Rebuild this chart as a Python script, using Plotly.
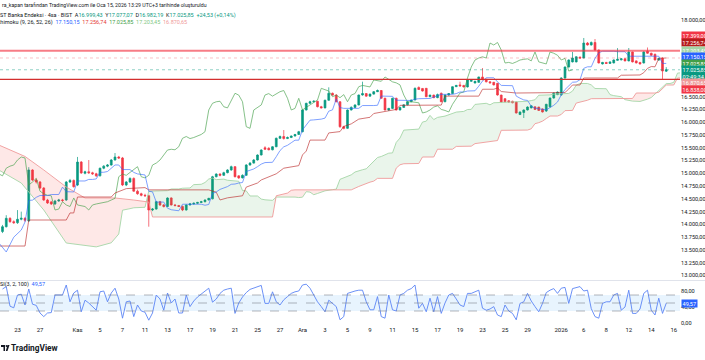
import numpy as np
import pandas as pd
import plotly.graph_objects as go

# ---------------- data ----------------
opens = [13860,13955,14119,14054,14033,14100,14120,14067,15065,14869,
         14830,14712,14477,14440,14400,14458,14477,14477,14830,14860,
         14770,15220,15000,15030,15010,14990,14950,15100,15140,15162,
         15260,15319,15300,14771,14830,14900,14650,14600,14570,14560,
         14282,14300,14444,14380,14350,14517,14380,14370,14350,14282,
         14380,14400,14413,14430,14444,14477,14500,14933,14986,14960,
         15012,15065,15130,14950,14910,14960,15162,15200,15260,15358,
         15500,15490,15460,15520,15685,15720,15680,15700,15730,15760,
         15814,16239,16370,16400,16410,16303,16280,16430,16566,16530,
         16400,15912,15880,16239,16290,16337,16532,16560,16510,16550,
         16597,16620,16468,16239,16270,16468,16239,16290,16340,16401,
         16434,16680,16660,16663,16499,16530,16480,16566,16401,16532,
         16560,16695,16730,16720,16690,16800,16767,16780,16885,16840,
         16790,16780,16760,16530,16460,16420,16410,16395,16150,16190,
         16239,16280,16300,16297,16260,16220,16300,16474,16540,16532,
         16865,17080,17180,17180,17270,17256,17550,17511,17560,17413,
         17140,17170,17150,17160,17210,17220,17240,17200,17374,17200,
         17170,17159,17390,17350,17330,17217,17250,16999.43]
highs = [13990,14180,14140,14080,14280,14250,14140,15120,15080,14900,
         14850,14730,14500,14460,14480,14500,14500,14850,14890,14880,
         15320,15240,15050,15260,15030,15010,15110,15160,15180,15280,
         15397,15340,15320,14850,14920,14920,14680,14620,14600,14580,
         14320,14460,14460,14400,14530,14530,14400,14380,14370,14390,
         14420,14430,14440,14460,14490,14520,14950,15000,15000,15030,
         15080,15150,15140,14960,14980,15180,15220,15280,15370,15470,
         15530,15510,15530,15700,15740,15847,15720,15740,15770,15830,
         16250,16380,16420,16430,16420,16320,16440,16683,16580,16550,
         16410,15930,16250,16310,16350,16540,16793,16570,16560,16610,
         16640,16630,16480,16280,16480,16480,16300,16350,16410,16440,
         16680,16700,16670,16670,16540,16540,16560,16580,16540,16570,
         16700,16730,16793,16730,16830,16840,16810,16890,17060,16850,
         16800,16790,16770,16540,16470,16430,16420,16400,16210,16250,
         16310,16330,16310,16300,16270,16360,16480,16580,16600,16880,
         17090,17230,17374,17290,17290,17648,17570,17580,17628,17420,
         17180,17180,17190,17230,17450,17250,17250,17452,17380,17210,
         17180,17390,17462,17360,17340,17260,17270,17077.07]
lows = [13830,13940,14030,14010,14010,14080,14050,14050,14850,14800,
        14690,14460,14400,14380,14380,14440,14440,14460,14810,14720,
        14750,14990,14980,14990,14970,14930,14940,15080,15120,15150,
        15250,15280,14750,14750,14810,14640,14580,14550,14540,13955,
        14260,14290,14360,14330,14340,14370,14350,14340,14260,14270,
        14370,14390,14400,14420,14430,14470,14490,14920,14940,14950,
        15000,15050,14920,14890,14900,14950,15150,15190,15250,15350,
        15460,15450,15450,15510,15670,15660,15670,15690,15720,15750,
        15800,16230,16360,16390,16290,16270,16270,16420,16520,16390,
        15890,15860,15870,16230,16280,16330,16520,16500,16500,16540,
        16590,16460,16230,16220,16260,16230,16230,16280,16330,16390,
        16430,16630,16600,16490,16490,16470,16470,16390,16390,16520,
        16550,16690,16700,16680,16680,16790,16760,16770,16820,16780,
        16760,16720,16520,16380,16390,16380,16370,16170,16140,16082,
        16230,16270,16240,16220,16190,16200,16290,16460,16530,16520,
        16850,17070,17170,17170,17240,17250,17500,17500,17400,17150,
        17130,17140,17140,17150,17200,17210,17190,17190,17170,17150,
        17130,17150,17340,17300,17210,17200,16838,16982.19]
closes = [13955,14119,14054,14033,14100,14120,14080,15065,14869,14830,
          14712,14477,14419,14400,14458,14477,14470,14830,14860,14738,
          15220,15006,15030,15010,14990,14950,15100,15140,15162,15260,
          15319,15300,14771,14830,14900,14650,14600,14570,14560,14282,
          14300,14444,14380,14350,14517,14380,14370,14350,14282,14380,
          14400,14413,14430,14444,14477,14510,14933,14986,14960,15012,
          15065,15130,14933,14910,14960,15162,15200,15260,15358,15456,
          15470,15460,15520,15685,15720,15680,15700,15730,15760,15814,
          16239,16370,16400,16410,16303,16280,16430,16566,16530,16400,
          15912,15880,16239,16290,16337,16532,16560,16510,16550,16597,
          16620,16468,16239,16270,16468,16239,16290,16340,16401,16434,
          16663,16640,16610,16499,16530,16480,16540,16401,16532,16560,
          16695,16720,16710,16690,16826,16820,16800,16885,16830,16790,
          16770,16730,16532,16395,16400,16395,16380,16180,16200,16239,
          16297,16320,16250,16230,16200,16350,16474,16571,16591,16865,
          17080,17217,17256,17280,17256,17550,17511,17560,17413,17159,
          17170,17150,17180,17217,17230,17240,17200,17374,17180,17160,
          17140,17374,17350,17310,17217,17250,17001.32,17025.85]

# Ichimoku lines, read as (bar index, value) vertices
tenkan_idx = [-1,1,3,5,6,7,8,9,10,12,13,15,16,17,19,20,22,23,24,25,26,27,28,29,30,31,32,34,35,36,37,38,39,40,41,43,44,45,46,47,48,53,54,55,56,57,58,59,60,61,62,63,64,65,66,67,68,69,70,72,73,74,75,76,77,78,79,80,81,82,83,84,85,86,87,88,89,90,91,95,96,99,100,101,102,103,104,105,108,109,110,111,114,115,116,117,120,121,122,123,124,126,127,128,129,131,132,133,136,137,138,139,140,141,142,143,144,145,146,147,148,149,150,151,152,153,154,155,156,157,158,159,160,163,164,166,167,175,176,177]
tenkan_val = [13640,13460,13750,13890,14047,14470,14475,14530,14565,14565,14585,14585,14730,14640,14635,14850,14850,14880,14880,14890,15020,15020,15035,15105,15163,15163,15073,15073,15018,14988,14973,14968,14648,14637,14437,14437,14317,14287,14277,14267,14395,14395,14375,14390,14605,14635,14685,14710,14740,14785,14790,14810,14820,15035,15055,15085,15130,15180,15210,15215,15325,15445,15518,15548,15598,15648,15648,15850,15945,16040,16045,16050,16060,16080,16216,16241,16456,16286,16271,16271,16326,16326,16331,16511,16511,16506,16506,16430,16430,16425,16450,16460,16465,16490,16515,16545,16545,16560,16591,16591,16610,16615,16705,16805,16870,16870,16790,16720,16715,16510,16470,16436,16426,16311,16276,16256,16251,16241,16281,16331,16395,16535,16640,16710,16782,16787,16832,17054,17084,17084,17249,17359,17389,17389,17379,17379,17291,17291,17150.15,17150.15]
kijun_idx = [-1,6,7,17,18,19,20,29,30,33,38,39,55,57,58,60,62,64,65,68,69,73,75,79,80,81,82,86,87,90,91,93,95,98,99,105,106,117,118,127,128,131,132,133,137,149,150,151,152,154,155,164,165,170,171,172,173,174,175,177]
kijun_val = [13577,13577,14086,14086,14224,14224,14536,14536,14614,14700,14720,14676,14676,14630,14478,14520,14540,14560,14730,14810,14870,14990,15100,15150,15360,15435,15650,15650,15790,15816,15917,15967,16060,16096,16170,16250,16330,16335,16510,16510,16645,16645,16670,16600,16571,16571,16581,16650,16728,16728,16865,16865,16919,16924,16969,17054,17089,17084,17249,17256.74]
span_a_idx = [-1,5,11,17,25,29,31,32,34,35,38,39,44,45,47,48,50,51,53,54,55,56,57,59,60,62,63,64,65,66,68,69,70,72,73,78,79,80,81,82,83,84,85,86,88,89,90,91,92,93,94,95,96,97,98,99,100,101,102,103,104,105,106,107,111,112,113,114,115,116,118,119,120,121,123,124,125,126,129,130,131,135,139,140,141,142,143,145,146,147,149,151,152,153,154,156,157,158,161,162,163,164,165,166,167,168,170,171,172,173,174,175,176,177,178,179,180,182]
span_a_val = [15065,14810,14282,13636,13560,13640,13812,14278,14308,14325,14335,14650,14660,14693,14693,14708,14713,14778,14785,14820,14888,14906,14876,14886,14864,14845,14844,14662,14656,14556,14556,14496,14481,14471,14535,14535,14525,14533,14640,14632,14581,14605,14630,14657,14680,14690,14882,14912,14937,14970,15025,15055,15070,15088,15158,15245,15309,15329,15364,15394,15399,15605,15690,15845,15865,16003,16020,16133,16051,16094,16119,16144,16165,16198,16211,16248,16251,16348,16370,16340,16380,16390,16398,16410,16423,16440,16528,16528,16535,16550,16560,16563,16608,16725,16758,16758,16730,16660,16655,16540,16520,16503,16499,16441,16423,16413,16406,16426,16451,16483,16553,16610,16680,16755,16757,16780,16960,16975]
span_b_idx = [-1,6,11,17,22,30,35,39,40,72,73,76,77,78,93,94,95,98,99,100,104,105,106,107,108,111,112,115,116,120,121,124,125,126,127,128,129,130,131,132,133,139,140,141,142,143,144,145,146,148,149,150,151,152,153,154,155,156,157,167,168,169,174,175,176,177,179,180,182]
span_b_val = [15554,15330,15065,14732,14517,14517,14477,14438,14145,14145,14560,14613,14668,14676,14676,14712,14742,14827,14847,14901,14901,15102,15167,15187,15192,15192,15319,15319,15471,15471,15526,15526,15531,15581,15591,15596,15606,15611,15631,15641,15841,15841,15846,15871,15971,15991,16021,16071,16121,16121,16151,16226,16226,16231,16375,16390,16405,16430,16460,16460,16465,16571,16571,16586,16656,16728,16728,16865,16865]
ichimoku_periods = "(9, 26, 52, 26)"
lead_a_now = 17203.45
lead_b_now = 16870.65
lagging_offset = 25

crsi = [85,91,42,38,70,72,45,85,47,44,
        25,16,25,26,70,70,70,95,53,75,
        82,28,57,50,40,32,78,80,53,75,
        87,60,12,53,55,16,45,30,27,7,
        25,70,60,32,75,50,60,25,25,70,
        41,55,65,72,80,87,52,60,74,82,
        85,87,24,50,65,76,84,88,91,94,
        49,49,78,53,45,58,66,74,78,80,
        95,97,87,70,53,41,28,57,48,41,
        8,16,74,78,80,82,82,53,33,33,
        66,16,12,70,33,30,70,74,82,86,
        95,37,49,28,62,28,66,24,50,70,
        74,60,45,41,74,74,78,82,37,32,
        35,41,20,16,45,30,24,8,49,53,
        74,55,41,28,49,76,82,86,74,87,
        89,49,86,88,91,80,82,36,16,12,
        49,53,53,70,74,32,40,82,24,24,
        35,74,82,32,20,62,24,49.57]
crsi_upper, crsi_mid, crsi_lower = 70, 50, 30

level_high = 17399.00
level_low = 16838.00

# trading calendar (4h bars, BIST)
first_day, last_day = "2025-10-21", "2026-01-16"
holidays = ["2025-10-29", "2026-01-01"]
bars_on_day = {"2025-10-21": 1, "2025-10-28": 1}
tick_dates = ["2025-10-23","2025-10-27","2025-11-03","2025-11-05","2025-11-07","2025-11-11",
              "2025-11-13","2025-11-17","2025-11-19","2025-11-21","2025-11-25","2025-11-27",
              "2025-12-01","2025-12-03","2025-12-05","2025-12-09","2025-12-11","2025-12-15",
              "2025-12-17","2025-12-19","2025-12-23","2025-12-25","2025-12-29","2026-01-02",
              "2026-01-06","2026-01-08","2026-01-12","2026-01-14","2026-01-16"]
tick_text = ["23","27","Kas","5","7","11","13","17","19","21","25","27","Ara","3","5","9",
             "11","15","17","19","23","25","29","2026","6","8","12","14","16"]

# ---------------- helpers ----------------
def tr(v, nd=2):
    s = f"{v:,.{nd}f}"
    return s.replace(",", "X").replace(".", ",").replace("X", ".")

day_first_bar = {}
k = 0
for d in pd.bdate_range(first_day, last_day):
    ds = d.strftime("%Y-%m-%d")
    if ds in holidays:
        continue
    day_first_bar[ds] = k
    k += bars_on_day.get(ds, 3)
tick_vals = [day_first_bar[d] for d in tick_dates]

idx = np.arange(len(closes))

W, H = 705, 360
ML, MR, MT, MB = 0, 25, 0, 35
PW, PH = W - ML - MR, H - MT - MB
BAR = 3.75  # pixel spacing between bars
x_range = [-2.5 / BAR, (PW - 2.5) / BAR]
MAIN_BOTTOM = 280
RSI_TOP = 281
main_domain = [(PH - MAIN_BOTTOM) / PH, 1]
rsi_domain = [0, (PH - RSI_TOP) / PH]
PX_PER_K = 51.1
y_range = [18000 - (MAIN_BOTTOM - 20) / PX_PER_K * 1000, 18000 + 20 / PX_PER_K * 1000]
r_range = [-5, 105]

def py(px):
    return 1 - px / PH

UP, DN = "#089981", "#F23645"
FONT = "Roboto, Arial, sans-serif"
TXT = "#131722"

fig = go.Figure()

# cloud fills
grid = np.union1d(span_a_idx, span_b_idx).astype(float)
A = np.interp(grid, span_a_idx, span_a_val)
B = np.interp(grid, span_b_idx, span_b_val)
segs = []
cx, ca, cb = [grid[0]], [A[0]], [B[0]]
sign = A[0] >= B[0]
for j in range(1, len(grid)):
    d0, d1 = A[j-1] - B[j-1], A[j] - B[j]
    s1 = d1 >= 0
    if s1 != sign and d0 != d1:
        t = d0 / (d0 - d1)
        xc = grid[j-1] + t * (grid[j] - grid[j-1])
        yc = A[j-1] + t * (A[j] - A[j-1])
        cx.append(xc); ca.append(yc); cb.append(yc)
        segs.append((sign, cx, ca, cb))
        cx, ca, cb = [xc], [yc], [yc]
        sign = s1
    cx.append(grid[j]); ca.append(A[j]); cb.append(B[j])
segs.append((sign, cx, ca, cb))
for s, xs, as_, bs in segs:
    fig.add_trace(go.Scatter(x=list(xs) + list(xs)[::-1], y=list(as_) + list(bs)[::-1],
                             fill="toself", mode="lines", line=dict(width=0),
                             fillcolor="rgba(67,160,71,0.11)" if s else "rgba(244,67,54,0.12)",
                             hoverinfo="skip", showlegend=False))

fig.add_trace(go.Scatter(x=span_a_idx, y=span_a_val, mode="lines",
                         line=dict(color="#A5D6A7", width=0.9), showlegend=False))
fig.add_trace(go.Scatter(x=span_b_idx, y=span_b_val, mode="lines",
                         line=dict(color="#EF9A9A", width=0.9), showlegend=False))

fig.add_trace(go.Candlestick(x=idx, open=opens, high=highs, low=lows, close=closes,
                             increasing=dict(line=dict(color=UP, width=0.7), fillcolor=UP),
                             decreasing=dict(line=dict(color=DN, width=0.7), fillcolor=DN),
                             whiskerwidth=0, showlegend=False))

fig.add_trace(go.Scatter(x=idx - lagging_offset, y=closes, mode="lines",
                         line=dict(color="#43A047", width=0.8), opacity=0.8, showlegend=False))
fig.add_trace(go.Scatter(x=kijun_idx, y=kijun_val, mode="lines",
                         line=dict(color="#B71C1C", width=0.8), opacity=0.75, showlegend=False))
fig.add_trace(go.Scatter(x=tenkan_idx, y=tenkan_val, mode="lines",
                         line=dict(color="#2962FF", width=0.8), opacity=0.75, showlegend=False))

# oscillator
fig.add_trace(go.Scatter(x=idx, y=crsi, mode="lines", xaxis="x2", yaxis="y2",
                         line=dict(color="#5B84F5", width=0.9), showlegend=False))

shapes = [
    dict(type="rect", xref="x2 domain", x0=0, x1=1, yref="y2", y0=crsi_lower, y1=crsi_upper,
         fillcolor="rgba(33,150,243,0.10)", line=dict(width=0), layer="below"),
    dict(type="line", xref="paper", x0=0, x1=W / PW, yref="paper", y0=py(280.5), y1=py(280.5),
         line=dict(color="#E0E3EB", width=1)),
    dict(type="line", xref="x domain", x0=0, x1=1, yref="y", y0=closes[-1], y1=closes[-1],
         line=dict(color="rgba(8,153,129,0.45)", width=1, dash="dot")),
    dict(type="line", xref="x domain", x0=0, x1=1, yref="y", y0=kijun_val[-1], y1=kijun_val[-1],
         line=dict(color="rgba(242,54,69,0.30)", width=1, dash="dot")),
    dict(type="line", xref="x domain", x0=0, x1=1, yref="y", y0=level_high, y1=level_high,
         line=dict(color="rgba(242,54,69,0.65)", width=2)),
    dict(type="line", xref="x domain", x0=0, x1=1, yref="y", y0=level_low, y1=level_low,
         line=dict(color="#D32F2F", width=1.4)),
]
for lv in (crsi_upper, crsi_mid, crsi_lower):
    shapes.append(dict(type="line", xref="x2 domain", x0=0, x1=1, yref="y2", y0=lv, y1=lv,
                       line=dict(color="rgba(120,123,134,0.7)", width=0.8, dash="dash")))
# TradingView logo mark
lx = lambda p: p / PW
shapes.append(dict(type="path", xref="paper", yref="paper",
                   path=f"M {lx(1)},{py(345)} L {lx(5)},{py(345)} L {lx(5)},{py(351)} L {lx(3.5)},{py(351)} L {lx(3.5)},{py(347)} L {lx(1)},{py(347)} Z",
                   fillcolor=TXT, line=dict(width=0)))
shapes.append(dict(type="path", xref="paper", yref="paper",
                   path=f"M {lx(7.5)},{py(345)} L {lx(9.5)},{py(345)} L {lx(7.5)},{py(351)} L {lx(5.8)},{py(351)} Z",
                   fillcolor=TXT, line=dict(width=0)))
shapes.append(dict(type="circle", xref="paper", yref="paper", x0=lx(5.6), x1=lx(7.4),
                   y0=py(346.9), y1=py(345.1), fillcolor=TXT, line=dict(width=0)))

ann = []
def text(px_x, px_y, s, size=5.5, color=TXT, **kw):
    ann.append(dict(xref="paper", yref="paper", x=lx(px_x), y=py(px_y), xanchor="left",
                    yanchor="middle", text=s, showarrow=False,
                    font=dict(family=FONT, size=size, color=color), **kw))

def col(s, c):
    return f"<span style='color:{c}'>{s}</span>"

chg = closes[-1] - closes[-2]
pct = chg / closes[-2] * 100
text(0, 5, "ra_kapan tarafından TradingView.com ile Oca 15, 2026 13:29 UTC+3 tarihinde oluşturuldu", size=5.2)
text(-7, 15.5, "BIST Banka Endeksi · 4sa · BIST  "
     + "A" + col(tr(opens[-1]), UP) + "  Y" + col(tr(highs[-1]), UP)
     + "  D" + col(tr(lows[-1]), UP) + "  K" + col(tr(closes[-1]), UP)
     + "  " + col(f"+{tr(chg)} (+{tr(pct)}%)", UP), size=5.5)
text(-6, 22.5, f"Ichimoku {ichimoku_periods}  " + col(tr(tenkan_val[-1]), "#2962FF") + "  "
     + col(tr(kijun_val[-1]), "#E53935") + "  " + col(tr(closes[-1]), "#43A047") + "  "
     + col(tr(lead_a_now), "#81C784") + "  " + col(tr(lead_b_now), "#EF9A9A"), size=5.5)
text(-9, 284.5, "CRSI(3, 2, 100)  " + col(tr(crsi[-1]), "#2962FF"), size=5.5)
text(9, 348, "<b>TradingView</b>", size=8.3)

# right-side price tags
tags = [
    (35, tr(level_high), DN),
    (42.5, tr(kijun_val[-1]), "#B71C1C"),
    (50, tr(lead_a_now), "#A5D6A7"),
    (57, tr(tenkan_val[-1]), "#2962FF"),
    (63.5, tr(closes[-1]), "#43A047"),
    (72.5, tr(closes[-1]) + "<br>02:49:34", UP),
    (82, tr(lead_b_now), "#EF9A9A"),
    (89, tr(level_low), DN),
    (303.2, tr(crsi[-1]), "#2962FF"),
]
for ypx, s, bg in tags:
    ann.append(dict(xref="paper", yref="paper", x=1, y=py(ypx), xanchor="left", yanchor="middle",
                    xshift=1, text=s, showarrow=False, bgcolor=bg, borderpad=0.6, align="left",
                    font=dict(family=FONT, size=5.5, color="white")))

main_ticks = [v for v in range(13000, 18001, 250) if v <= 16500 or v == 18000]

fig.update_layout(
    width=W, height=H, margin=dict(l=ML, r=MR, t=MT, b=MB),
    paper_bgcolor="white", plot_bgcolor="white", separators=",.",
    showlegend=False, shapes=shapes, annotations=ann,
    font=dict(family=FONT, size=6, color=TXT),
    xaxis=dict(domain=[0, 1], range=x_range, anchor="y", showticklabels=False, showgrid=False,
               zeroline=False, showline=False, ticks="", rangeslider=dict(visible=False)),
    xaxis2=dict(domain=[0, 1], range=x_range, anchor="y2", matches="x", showgrid=False,
                zeroline=False, showline=False, ticks="", tickvals=tick_vals, ticktext=tick_text,
                tickfont=dict(size=6, color=TXT, family=FONT)),
    yaxis=dict(domain=main_domain, range=y_range, side="right", showgrid=False, zeroline=False,
               showline=False, ticks="", tickvals=main_ticks, tickformat=",.2f",
               tickfont=dict(size=5.6, color=TXT, family=FONT)),
    yaxis2=dict(domain=rsi_domain, range=r_range, side="right", showgrid=False, zeroline=False,
                showline=False, ticks="", tickvals=[0, 40, 80], tickformat=",.2f",
                tickfont=dict(size=5.6, color=TXT, family=FONT)),
)

fig.write_html("out.html", config={"displayModeBar": False},
               post_script="document.body.style.margin='0px';document.body.style.padding='0px';")
